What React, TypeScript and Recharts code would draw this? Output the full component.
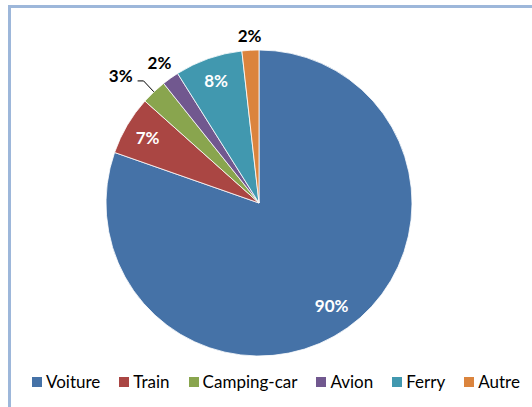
import React from 'react';
import { PieChart, Pie, Cell } from 'recharts';

const CATEGORIES = ['Voiture', 'Train', 'Camping-car', 'Avion', 'Ferry', 'Autre'];
const VALUES = [90, 7, 3, 2, 8, 2];
const COLORS = ['#4572A7', '#AA4643', '#89A54E', '#71588F', '#4198AF', '#DB843D'];
// where each label sits: inside the slice (fraction of radius) or outside it (px beyond the edge)
const LABEL_SPOTS: { inside: boolean; r: number; leader?: boolean }[] = [
  { inside: true, r: 0.82 },
  { inside: true, r: 0.845 },
  { inside: false, r: 15, leader: true },
  { inside: false, r: 19 },
  { inside: true, r: 0.85 },
  { inside: false, r: 15 },
];

const data = CATEGORIES.map((name, i) => ({ name, value: VALUES[i] }));
const FONT = 'Lato, "Open Sans", sans-serif';
const RAD = Math.PI / 180;

function renderLabel(props: any) {
  const { cx, cy, midAngle, outerRadius, index, value } = props;
  const spot = LABEL_SPOTS[index];
  const dist = spot.inside ? outerRadius * spot.r : outerRadius + spot.r;
  const x = cx + dist * Math.cos(-midAngle * RAD);
  const y = cy + dist * Math.sin(-midAngle * RAD);
  const text = `${value}%`;
  if (spot.leader) {
    // line from the slice edge up to an elbow, short horizontal run, text to its left
    const ex = cx + outerRadius * Math.cos(-midAngle * RAD);
    const ey = cy + outerRadius * Math.sin(-midAngle * RAD);
    return (
      <g key={`l-${index}`}>
        <polyline points={`${ex},${ey} ${x},${y} ${x - 6},${y}`} fill="none" stroke="#000" strokeWidth={1} />
        <text x={x - 11} y={y - 5} textAnchor="end" dominantBaseline="central"
          fontFamily={FONT} fontWeight={700} fontSize={17} fill="#000">{text}</text>
      </g>
    );
  }
  return (
    <text key={`l-${index}`} x={x} y={y} textAnchor="middle" dominantBaseline="central"
      fontFamily={FONT} fontWeight={700} fontSize={17} fill={spot.inside ? '#fff' : '#000'}>
      {text}
    </text>
  );
}

export default function App() {
  return (
    <div style={{ position: 'absolute', left: 0, top: 0, width: 532, height: 407, background: '#fff', overflow: 'hidden' }}>
      <div style={{
        position: 'absolute', left: 8, top: 5, width: 540, height: 420,
        borderTop: '3px solid #9DB7DA', borderLeft: '3px solid #9DB7DA',
      }} />
      <PieChart width={532} height={407} margin={{ top: 0, right: 0, bottom: 0, left: 0 }}
        style={{ position: 'absolute', left: 0, top: 0 }}>
        <Pie
          data={data}
          dataKey="value"
          nameKey="name"
          cx={259}
          cy={203}
          outerRadius={153}
          startAngle={90}
          endAngle={-270}
          stroke="#fff"
          strokeWidth={0.8}
          label={renderLabel}
          labelLine={false}
          isAnimationActive={false}
        >
          {data.map((d, i) => <Cell key={d.name} fill={COLORS[i]} />)}
        </Pie>
      </PieChart>
      <div style={{
        position: 'absolute', left: 32, top: 371, display: 'flex', alignItems: 'center',
        fontFamily: FONT, fontSize: 17, color: '#000', whiteSpace: 'nowrap',
      }}>
        {CATEGORIES.map((c, i) => (
          <div key={c} style={{ display: 'flex', alignItems: 'center', marginRight: 19 }}>
            <span style={{ width: 10, height: 10, background: COLORS[i], marginRight: 4, display: 'inline-block' }} />
            <span>{c}</span>
          </div>
        ))}
      </div>
    </div>
  );
}
